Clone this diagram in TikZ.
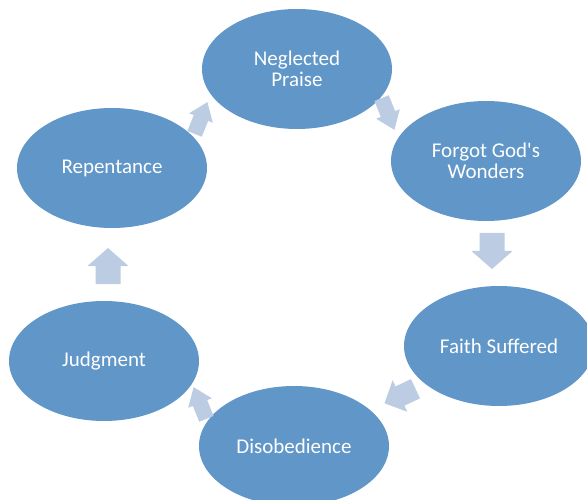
\documentclass[tikz,border=0pt]{standalone}
\usepackage{fontspec}
\setmainfont{Carlito}[Ligatures=TeXOff]
\usetikzlibrary{shapes.geometric}
\definecolor{ellfill}{HTML}{6096C8}
\definecolor{arrfill}{HTML}{BCCCE3}
\tikzset{
  stage/.style={ellipse, fill=ellfill, minimum width=190pt, minimum height=120pt,
    inner sep=0pt, text=white, align=center, font=\fontsize{21}{21}\selectfont},
  cyclearrow/.style={fill=arrfill}
}
\newcommand\cyclearrowat[4]{% centre, angle, xscale, yscale
  \begin{scope}[shift={(#1)}, rotate=#2, xscale=#3, yscale=#4]
    \fill[cyclearrow] (-18,-12.5) -- (0,-12.5) -- (0,-20.5) -- (18,0)
      -- (0,20.5) -- (0,12.5) -- (-18,12.5) -- cycle;
  \end{scope}}
\begin{document}
\begin{tikzpicture}[x=1pt,y=-1pt]
  \useasboundingbox (0,0) rectangle (587,500);
  \clip (0,0) rectangle (587,500);
  \node[stage] (np)  at (297,69)  {Neglected\\Praise};
  \node[stage] (fgw) at (486,161) {Forgot God's\\Wonders};
  \node[stage] (fs)  at (499,346) {Faith Suffered};
  \node[stage] (dis) at (294,446) {Disobedience};
  \node[stage] (jud) at (104,361) {Judgment};
  \node[stage] (rep) at (112,168) {Repentance};
  \cyclearrowat{201,118}{68}{0.95}{0.62}
  \cyclearrowat{388,114}{-68}{0.95}{0.62}
  \cyclearrowat{492,251}{-90}{1}{1}
  \cyclearrowat{400,396}{-155}{0.95}{0.85}
  \cyclearrowat{200,403}{112}{0.95}{0.62}
  \cyclearrowat{108,266}{90}{1}{1}
\end{tikzpicture}
\end{document}
